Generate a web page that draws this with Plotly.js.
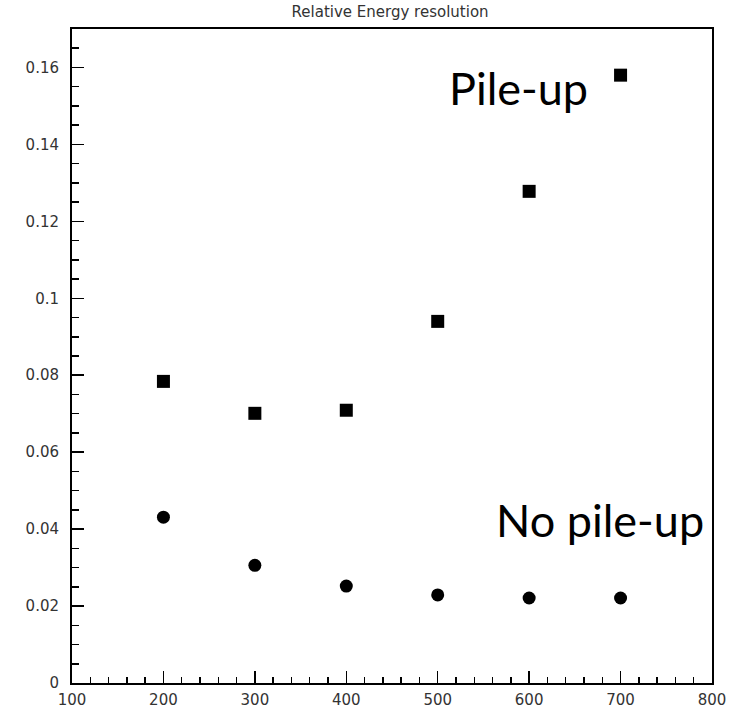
<!DOCTYPE html>
<html>
<head>
<meta charset="utf-8">
<script src="https://cdn.plot.ly/plotly-3.0.1.min.js"></script>
<style>html,body{margin:0;padding:0;background:#fff;}#chart{width:736px;height:708px;}</style>
</head>
<body>
<div id="chart"></div>
<script>
const energies = [200, 300, 400, 500, 600, 700];
const pileUp = [0.0784, 0.0701, 0.0709, 0.0940, 0.1278, 0.1580];
const noPileUp = [0.0431, 0.0306, 0.0252, 0.0229, 0.0221, 0.0221];
const xTickVals = [100, 200, 300, 400, 500, 600, 700, 800];
const yTickVals = [0, 0.02, 0.04, 0.06, 0.08, 0.1, 0.12, 0.14, 0.16];
const yTickText = ['0', '0.02', '0.04', '0.06', '0.08', '0.1', '0.12', '0.14', '0.16'];

const traces = [
  {x: energies, y: pileUp, mode: 'markers', type: 'scatter',
   marker: {symbol: 'square', size: 13, color: '#000'}, name: 'Pile-up'},
  {x: energies, y: noPileUp, mode: 'markers', type: 'scatter',
   marker: {symbol: 'circle', size: 13, color: '#000'}, name: 'No pile-up'}
];

const tickFont = {family: 'DejaVu Sans', size: 15, color: '#333'};
const layout = {
  width: 736, height: 708,
  margin: {l: 72, r: 24, t: 29, b: 25},
  paper_bgcolor: '#fff', plot_bgcolor: '#fff',
  showlegend: false,
  title: {text: 'Relative Energy resolution', x: 0.53, xanchor: 'center', y: 0.983, yanchor: 'middle',
          font: {family: 'DejaVu Sans', size: 15, color: '#333'}},
  xaxis: {range: [100, 800], tickvals: xTickVals, ticks: 'inside', ticklen: 12, tickcolor: '#000', tickwidth: 1.5,
          showgrid: false, zeroline: false, showline: true, linecolor: '#000', linewidth: 2, mirror: true,
          tickfont: tickFont, ticklabelstandoff: 2,
          minor: {dtick: 20, ticks: 'inside', ticklen: 6, tickcolor: '#000', tickwidth: 1.5, showgrid: false}},
  yaxis: {range: [0, 0.17], tickvals: yTickVals, ticktext: yTickText, ticks: 'inside', ticklen: 12, tickcolor: '#000', tickwidth: 1.5,
          showgrid: false, zeroline: false, showline: true, linecolor: '#000', linewidth: 2, mirror: true,
          tickfont: tickFont, ticklabelstandoff: 8,
          minor: {dtick: 0.005, ticks: 'inside', ticklen: 7, tickcolor: '#000', tickwidth: 1.5, showgrid: false}},
  annotations: [
    {text: 'Pile-up', x: 588, y: 0.1547, xref: 'x', yref: 'y', showarrow: false,
     font: {family: 'Lato', size: 45, color: '#000'}, xanchor: 'center', yanchor: 'middle'},
    {text: 'No pile-up', x: 793, y: 0.0423, xref: 'x', yref: 'y', showarrow: false,
     font: {family: 'Lato', size: 45, color: '#000'}, xanchor: 'right', yanchor: 'middle'}
  ]
};
Plotly.newPlot('chart', traces, layout, {staticPlot: true});
</script>
</body>
</html>
